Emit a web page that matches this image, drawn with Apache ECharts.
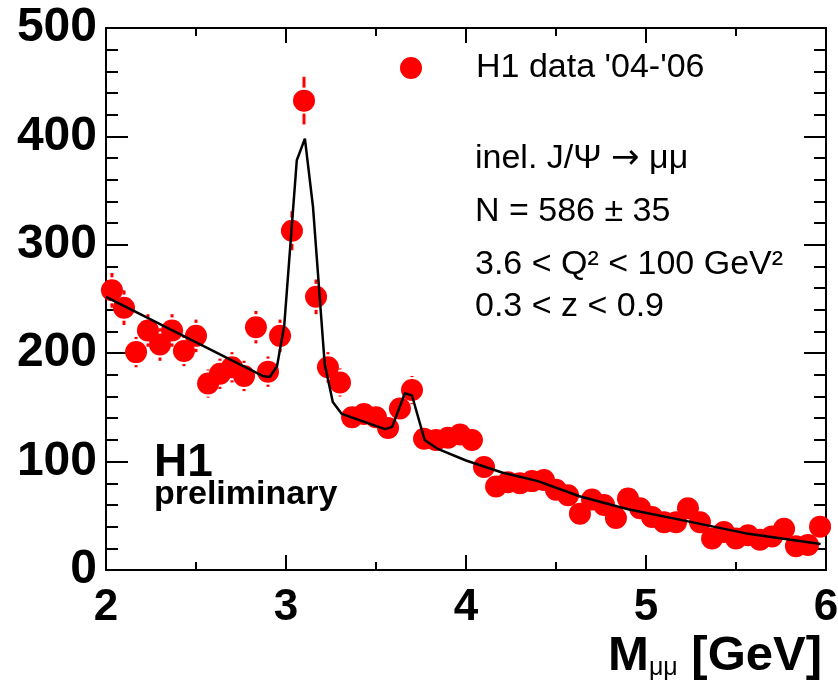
<!DOCTYPE html>
<html>
<head>
<meta charset="utf-8">
<script src="https://cdn.jsdelivr.net/npm/echarts@6/dist/echarts.min.js"></script>
<style>
html, body { margin: 0; padding: 0; background: #fff; }
#chart { width: 838px; height: 688px; }
</style>
</head>
<body>
<div id="chart"></div>
<script>
// bin centres (GeV), 60 bins between 2 and 6
const massBins = [
	2.033, 2.1, 2.167, 2.233, 2.3, 2.367, 2.433, 2.5, 2.567, 2.633,
	2.7, 2.767, 2.833, 2.9, 2.967, 3.033, 3.1, 3.167, 3.233, 3.3,
	3.367, 3.433, 3.5, 3.567, 3.633, 3.7, 3.767, 3.833, 3.9, 3.967,
	4.033, 4.1, 4.167, 4.233, 4.3, 4.367, 4.433, 4.5, 4.567, 4.633,
	4.7, 4.767, 4.833, 4.9, 4.967, 5.033, 5.1, 5.167, 5.233, 5.3,
	5.367, 5.433, 5.5, 5.567, 5.633, 5.7, 5.767, 5.833, 5.9, 5.967
]
const counts = [
	258, 242, 201, 221, 208, 221, 202, 216, 172, 181,
	187, 179, 224, 183, 216, 313, 433, 252, 187, 173,
	141, 144, 141, 131, 149, 166, 121, 120, 122, 125,
	120, 95, 77, 81, 80, 82, 83, 74, 69, 52,
	65, 60, 48, 66, 57, 49, 44, 44, 57, 44,
	29, 35, 29, 32, 28, 31, 38, 22, 23, 40
]
const errors = [
	16, 16, 14, 15, 15, 15, 14, 15, 13, 14,
	14, 14, 15, 14, 15, 18, 22, 16, 14, 13,
	12, 12, 12, 12, 12, 13, 11, 11, 11, 11,
	11, 10, 9, 9, 9, 9, 9, 9, 8, 7,
	8, 8, 7, 8, 8, 7, 7, 7, 8, 7,
	6, 6, 6, 6, 5, 6, 6, 5, 5, 6
]

// fit curve vertices
const fitMass = [2.0, 2.87, 2.91, 2.95, 2.99, 3.06, 3.105, 3.15, 3.215, 3.26, 3.31, 3.55, 3.59, 3.66, 3.70, 3.77, 3.84, 4.0, 4.2, 4.4, 4.63, 4.9, 5.2, 5.55, 5.97]
const fitCount = [252, 179, 178, 188, 225, 378, 398, 335, 190, 155, 144, 130, 132, 163, 161, 120, 112, 101, 90, 82, 68, 56, 46, 34, 24]

const xTicks = { min: 2, max: 6, interval: 1 }
const yTicks = { min: 0, max: 500, interval: 100 }

const legendLabel = "H1 data '04-'06"
const infoLines = ['inel. J/\u03A8 {a|\u2192} \u03BC\u03BC', 'N = 586 \u00B1 35', '3.6 < Q\u00B2 < 100 GeV\u00B2', '0.3 < z < 0.9']

const FONT = '"Liberation Sans", Arial, Helvetica, sans-serif'
const RED = '#ff0000'

const chart = echarts.init(document.getElementById('chart'))

const tickLine = { color: '#000', width: 2 }

const makeX = (pos, labels) => ({
	type: 'value',
	position: pos,
	...xTicks,
	axisLine: { onZero: false, lineStyle: tickLine },
	axisTick: { inside: true, length: 15, lineStyle: tickLine },
	minorTick: { show: true, splitNumber: 2, length: 8, lineStyle: tickLine },
	splitLine: { show: false },
	axisLabel: labels
		? { margin: 16, fontSize: 44, fontWeight: 'bold', color: '#000', fontFamily: FONT }
		: { show: false }
})

const makeY = (pos, labels) => ({
	type: 'value',
	position: pos,
	...yTicks,
	axisLine: { onZero: false, lineStyle: tickLine },
	axisTick: { inside: true, length: 22, lineStyle: tickLine },
	minorTick: { show: true, splitNumber: 5, length: 12, lineStyle: tickLine },
	splitLine: { show: false },
	axisLabel: labels
		? { margin: 9, fontSize: 48, fontWeight: 'bold', color: '#000', fontFamily: FONT }
		: { show: false }
})

const xBottom = makeX('bottom', true)
xBottom.name = '{m|M}{s|\u03BC\u03BC}{g| [GeV]}'
xBottom.nameLocation = 'end'
xBottom.nameGap = 0
xBottom.nameTextStyle = {
	align: 'right',
	verticalAlign: 'top',
	padding: [62, 4, 0, 0],
	rich: {
		m: { fontSize: 49, fontWeight: 'bold', color: '#000', fontFamily: FONT },
		s: { fontSize: 25, color: '#000', fontFamily: FONT, verticalAlign: 'bottom' },
		g: { fontSize: 49, fontWeight: 'bold', color: '#000', fontFamily: FONT }
	}
}

const points = massBins.map((m, i) => [m, counts[i]])
const bars = massBins.map((m, i) => [m, counts[i], errors[i]])
const fit = fitMass.map((m, i) => [m, fitCount[i]])

const options = {
	animation: false,
	backgroundColor: '#fff',
	grid: { left: 106, right: 12, top: 28, bottom: 118, outerBoundsMode: 'none' },
	xAxis: [xBottom, makeX('top', false)],
	yAxis: [makeY('left', true), makeY('right', false)],
	legend: {
		left: 395,
		top: 46,
		itemWidth: 22,
		itemHeight: 22,
		data: [{ name: legendLabel, icon: 'circle' }],
		textStyle: { fontSize: 34, color: '#000', fontFamily: FONT, padding: [0, 0, 0, 49] }
	},
	graphic: [
		...infoLines.map((t, i) => ({
			type: 'text',
			left: 475,
			top: [142, 195, 248, 290][i],
			style: {
				text: t,
				fontSize: 34,
				fill: '#000',
				fontFamily: FONT,
				rich: { a: { fontSize: 34, fontFamily: '"DejaVu Sans", sans-serif', fill: '#000' } }
			}
		})),
		{
			type: 'text',
			left: 154,
			top: 440,
			style: { text: 'H1', fontSize: 46, fontWeight: 'bold', fill: '#000', fontFamily: FONT }
		},
		{
			type: 'text',
			left: 154,
			top: 478,
			style: { text: 'preliminary', fontSize: 34, fontWeight: 'bold', fill: '#000', fontFamily: FONT }
		}
	],
	series: [
		{
			type: 'custom',
			name: 'errors',
			z: 2,
			data: bars,
			renderItem: (params, api) => {
				const x = api.value(0)
				const y = api.value(1)
				const e = api.value(2)
				const c = api.coord([x, y])
				const t = api.coord([x, y + e])
				const b = api.coord([x, y - e])
				const gap = 13
				const kids = []
				if (c[1] - t[1] > gap) {
					kids.push({ type: 'line', shape: { x1: c[0], y1: t[1], x2: c[0], y2: c[1] - gap }, style: { stroke: RED, lineWidth: 3 } })
				}
				if (b[1] - c[1] > gap) {
					kids.push({ type: 'line', shape: { x1: c[0], y1: c[1] + gap, x2: c[0], y2: b[1] }, style: { stroke: RED, lineWidth: 3 } })
				}
				return { type: 'group', children: kids }
			}
		},
		{
			type: 'scatter',
			name: legendLabel,
			z: 3,
			symbol: 'circle',
			symbolSize: 22,
			itemStyle: { color: RED, opacity: 1 },
			data: points
		},
		{
			type: 'line',
			name: 'fit',
			z: 4,
			symbol: 'none',
			smooth: false,
			lineStyle: { color: '#000', width: 2.5 },
			data: fit
		}
	]
}

chart.setOption(options)
</script>
</body>
</html>
